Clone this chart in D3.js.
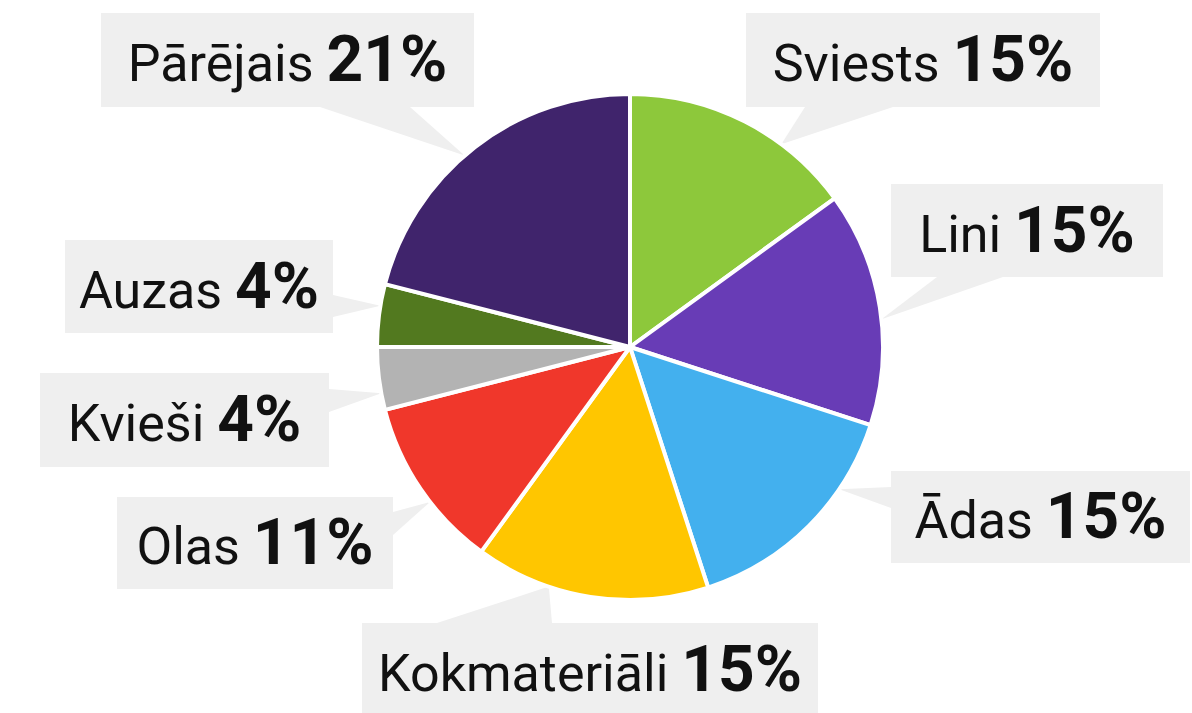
<!DOCTYPE html>
<html lang="lv">
<head>
    <meta charset="UTF-8">
    <title>Pie chart</title>
    <script src="https://d3js.org/d3.v7.min.js"></script>
    <style>
        body {
            margin: 0;
            background: #ffffff;
        }
        svg text {
            font-family: Roboto, 'Noto Sans', sans-serif;
            fill: #111;
        }
    </style>
</head>
<body>
<svg id="chart" width="1192" height="713"></svg>
<script>
    // data
    var categories = ['Sviests', 'Lini', 'Ādas', 'Kokmateriāli', 'Olas', 'Kvieši', 'Auzas', 'Pārējais'];
    var shares = [15, 15, 15, 15, 11, 4, 4, 21];
    var colors = ['#8dc83b', '#683cb6', '#43b0ee', '#ffc600', '#f0372b', '#b3b3b3', '#52791f', '#40246c'];

    // label boxes and callout bases (layout only)
    var boxes = [
        {x: 746, y: 13, w: 354, h: 94, base: [[805, 107], [893, 107]], t: 0.68},
        {x: 891, y: 184, w: 272, h: 93, base: [[937, 277], [1003, 277]], t: 0.55},
        {x: 891, y: 471, w: 299, h: 92, base: [[891, 487], [891, 508]], t: 0.30},
        {x: 362, y: 623, w: 456, h: 93, base: [[437, 623], [552, 623]], t: 0.68},
        {x: 117, y: 497, w: 276, h: 92, base: [[393, 512], [393, 535]], t: 0.41},
        {x: 40, y: 373, w: 289, h: 94, base: [[329, 389], [329, 412]], t: 0.27},
        {x: 65, y: 240, w: 268, h: 93, base: [[333, 295], [333, 317]], t: 0.65},
        {x: 101, y: 13, w: 373, h: 94, base: [[320, 107], [410, 107]], t: 0.46}
    ];

    var cx = 630, cy = 347, radius = 253;

    var svg = d3.select('#chart');

    var pie = d3.pie().sort(null).value(function (d) { return d; });
    var arcs = pie(shares);

    var arc = d3.arc().innerRadius(0).outerRadius(radius);

    // callouts go under the pie
    var callouts = svg.append('g');
    arcs.forEach(function (a, i) {
        var b = boxes[i];
        var ang = a.startAngle + b.t * (a.endAngle - a.startAngle);
        var tip = [cx + radius * Math.sin(ang), cy - radius * Math.cos(ang)];
        callouts.append('path')
            .attr('d', 'M' + b.base[0] + 'L' + tip + 'L' + b.base[1] + 'Z')
            .attr('fill', '#efefef');
        callouts.append('rect')
            .attr('x', b.x).attr('y', b.y)
            .attr('width', b.w).attr('height', b.h)
            .attr('fill', '#efefef');

        var txt = callouts.append('text')
            .attr('x', b.x + b.w / 2)
            .attr('y', b.y + b.h / 2 + 21)
            .attr('text-anchor', 'middle');
        txt.append('tspan')
            .attr('font-size', 52)
            .text(categories[i] + ' ');
        txt.append('tspan')
            .attr('font-size', 64)
            .attr('font-weight', 'bold')
            .text(shares[i] + '%');
    });

    var g = svg.append('g')
        .attr('transform', 'translate(' + cx + ',' + cy + ')');

    g.selectAll('path')
        .data(arcs)
        .enter()
        .append('path')
        .attr('d', arc)
        .attr('fill', function (d, i) { return colors[i]; })
        .attr('stroke', '#ffffff')
        .attr('stroke-width', 4)
        .attr('stroke-linejoin', 'round');
</script>
</body>
</html>
